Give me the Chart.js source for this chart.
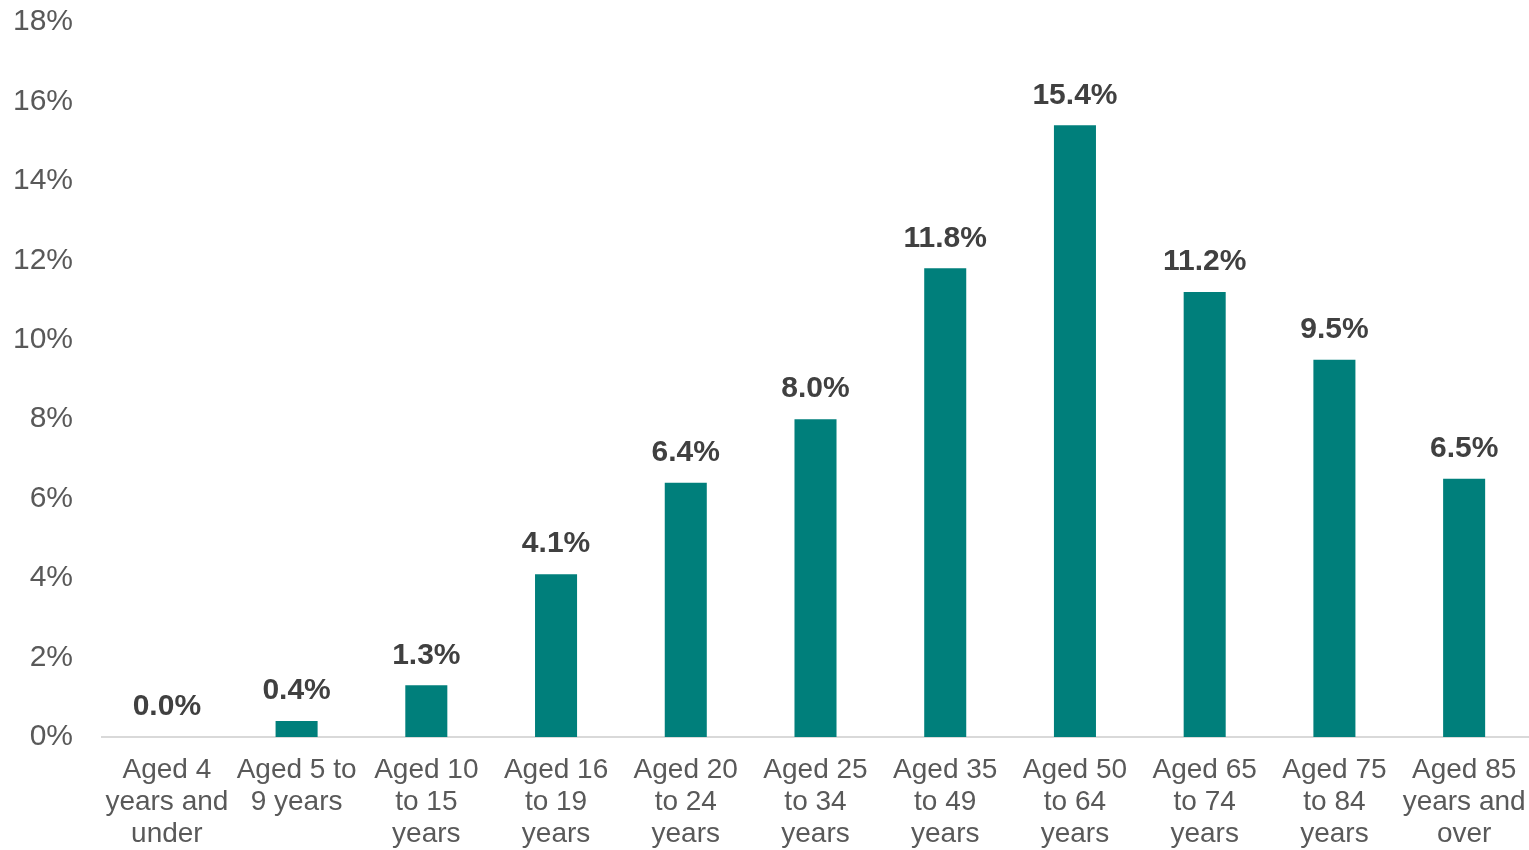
<!DOCTYPE html>
<html>
<head>
<meta charset="utf-8">
<script src="https://cdn.jsdelivr.net/npm/chart.js@4/dist/chart.umd.min.js"></script>
<style>
  html, body { margin: 0; padding: 0; background: #fff; }
  #wrap { width: 1529px; height: 850px; }
</style>
</head>
<body>
<div id="wrap"><canvas id="chart"></canvas></div>
<script>
// age groups (each one split over lines like the original)
const ageGroups = [
    ['Aged 4', 'years and', 'under'],
    ['Aged 5 to', '9 years'],
    ['Aged 10', 'to 15', 'years'],
    ['Aged 16', 'to 19', 'years'],
    ['Aged 20', 'to 24', 'years'],
    ['Aged 25', 'to 34', 'years'],
    ['Aged 35', 'to 49', 'years'],
    ['Aged 50', 'to 64', 'years'],
    ['Aged 65', 'to 74', 'years'],
    ['Aged 75', 'to 84', 'years'],
    ['Aged 85', 'years and', 'over']
];
const shares = [0.0, 0.4, 1.3, 4.1, 6.4, 8.0, 11.8, 15.4, 11.2, 9.5, 6.5];
const yTicks = [0, 2, 4, 6, 8, 10, 12, 14, 16, 18];

// draws the bold value above each bar
const valueLabels = {
    id: 'valueLabels',
    afterDatasetsDraw(chart) {
        const ctx = chart.ctx;
        const meta = chart.getDatasetMeta(0);
        ctx.save();
        ctx.font = 'bold 30px "Liberation Sans", Arial, sans-serif';
        ctx.fillStyle = '#404040';
        ctx.textAlign = 'center';
        ctx.textBaseline = 'middle';
        meta.data.forEach((bar, i) => {
            ctx.fillText(shares[i].toFixed(1) + '%', bar.x, bar.y - 30);
        });
        ctx.restore();
    }
};

const ctx = document.getElementById('chart').getContext('2d');
new Chart(ctx, {
    type: 'bar',
    data: {
        labels: ageGroups,
        datasets: [{
            data: shares,
            backgroundColor: '#007f7b',
            categoryPercentage: 1,
            barPercentage: 0.324
        }]
    },
    options: {
        responsive: true,
        maintainAspectRatio: false,
        animation: false,
        layout: { padding: { top: 22, right: 0, bottom: 0, left: 0 } },
        plugins: {
            legend: { display: false },
            tooltip: { enabled: false }
        },
        scales: {
            y: {
                min: 0,
                max: 18,
                afterBuildTicks: s => { s.ticks = yTicks.map(v => ({ value: v })); },
                afterFit: s => {
                    s.width = 102;
                    s.paddingTop = 0;
                    s.paddingBottom = 0;
                },
                grid: { display: false, drawTicks: false },
                border: { display: false },
                ticks: {
                    padding: 29,
                    color: '#595959',
                    font: { family: '"Liberation Sans", Arial, sans-serif', size: 30 },
                    callback: v => v + '%'
                }
            },
            x: {
                grid: { display: false, drawTicks: false },
                border: { display: true, color: '#d9d9d9', width: 2 },
                afterFit: s => {
                    s.height = 113;
                    s.paddingLeft = 0;
                    s.paddingRight = 0;
                },
                ticks: {
                    padding: 17,
                    maxRotation: 0,
                    autoSkip: false,
                    color: '#595959',
                    font: { family: '"Liberation Sans", Arial, sans-serif', size: 28, lineHeight: 1.14 }
                }
            }
        }
    },
    plugins: [valueLabels]
});
</script>
</body>
</html>
